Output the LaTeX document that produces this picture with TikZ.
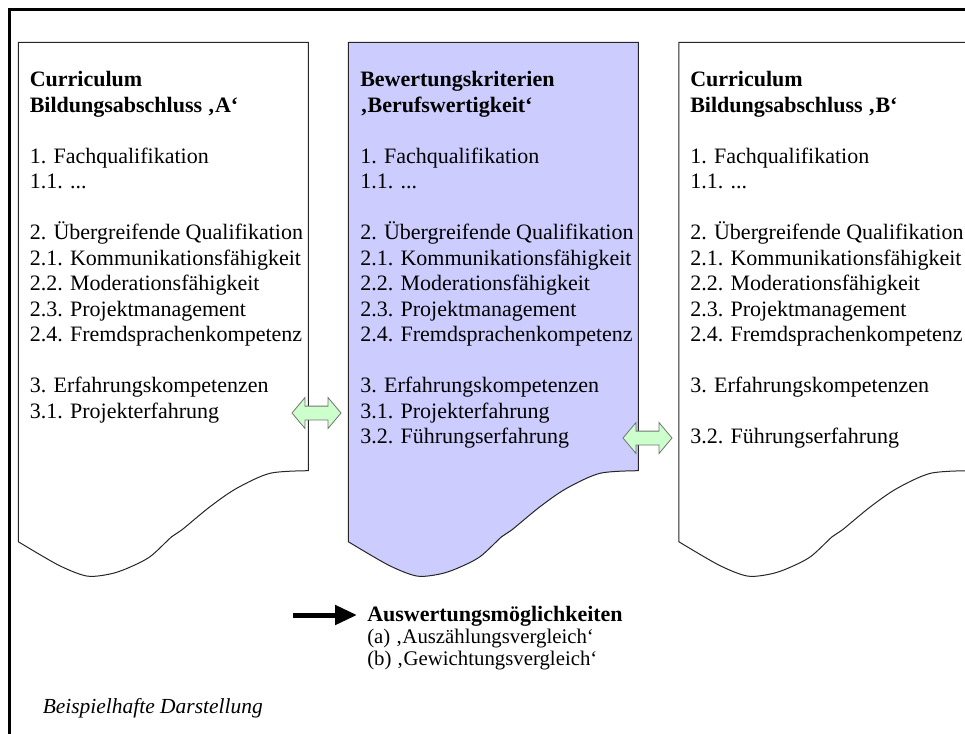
\documentclass[tikz,border=0pt]{standalone}
\usepackage{fontspec}
\setmainfont{Liberation Serif}
\usetikzlibrary{shapes.arrows,arrows.meta}

\tikzset{
  docline/.style={draw=black!85, line width=0.75pt},
  doctext/.style={anchor=base west, inner sep=0pt, font=\fontsize{16.5}{19}\selectfont},
  doctitle/.style={doctext, font=\fontsize{16.5}{19}\selectfont\bfseries},
  linkarrow/.style={double arrow, draw=black!55, fill=green!20, line width=0.6pt,
    inner sep=0pt, text height=9.75pt, text depth=0pt, minimum height=36.75pt,
    double arrow head extend=6.4pt, double arrow tip angle=100},
  evaltext/.style={anchor=base west, inner sep=0pt, font=\fontsize{15.6}{17.5}\selectfont},
  evalarrow/.style={line width=3.75pt, -{Triangle[length=16.5pt, width=14.25pt]}, shorten >=7.5pt}
}

\begin{document}
\begin{tikzpicture}[x=0.75pt, y=-0.75pt]
    \def\docpath{(0,0) -- (290,0) -- (290,428.4) -- plot[smooth, tension=0.5] coordinates {(290,428.4) (251.7,431) (218.4,446) (191.7,464.4) (163.4,487.7) (153.4,494.4) (131.7,514.4) (109.7,525.7) (91.7,531.7) (68.4,533.7) (40,522.7) (0,499.4)} -- cycle}

    \useasboundingbox (0,0) rectangle (965,733);
    \clip (0,0) rectangle (965,733);
    \draw[line width=1.9pt] (9.3,9.3) rectangle (1000,760);

    % the three documents
    \begin{scope}[shift={(18.3,42.3)}]
      \draw[docline] \docpath;
    \end{scope}
    \begin{scope}[shift={(348.3,42.3)}]
      \draw[docline, fill=blue!20] \docpath;
    \end{scope}
    \begin{scope}[shift={(678.8,42.3)}]
      \draw[docline] \docpath;
    \end{scope}

    \foreach \x/\d in {29.5/A, 360/B, 690/C}
      \foreach \n/\txt in {3/1. Fachqualifikation, 4/{1.1. .{}.{}.}, 6/2. Übergreifende Qualifikation,
          7/2.1. Kommunikationsfähigkeit, 8/2.2. Moderationsfähigkeit, 9/2.3. Projektmanagement,
          10/2.4. Fremdsprachenkompetenz, 12/3. Erfahrungskompetenzen}
        \node[doctext] (\d\n) at (\x, 86.5+25.5*\n) {\txt};

    \node[doctitle] (A0) at (29.5,86.5) {Curriculum};
    \node[doctitle] (A1) at (29.5,112) {Bildungsabschluss ‚A‘};
    \node[doctext] (A13) at (29.5,418) {3.1. Projekterfahrung};

    \node[doctitle] (B0) at (360,86.5) {Bewertungskriterien};
    \node[doctitle] (B1) at (360,112) {‚Berufswertigkeit‘};
    \node[doctext] (B13) at (360,418) {3.1. Projekterfahrung};
    \node[doctext] (B14) at (360,443.5) {3.2. Führungserfahrung};

    \node[doctitle] (C0) at (690,86.5) {Curriculum};
    \node[doctitle] (C1) at (690,112) {Bildungsabschluss ‚B‘};
    \node[doctext] (C14) at (690,443.5) {3.2. Führungserfahrung};

    % comparison arrows
    \node[linkarrow] (linkAB) at (316.5,413) {};
    \node[linkarrow] (linkBC) at (647.5,438) {};

    % evaluation
    \coordinate (evalstart) at (293,615);
    \node[doctitle] (evalhead) at (367,621) {Auswertungsmöglichkeiten};
    \node[evaltext] (evalA) at (367,643) {(a) ‚Auszählungsvergleich‘};
    \node[evaltext] (evalB) at (367,665) {(b) ‚Gewichtungsvergleich‘};
    \draw[evalarrow] (evalstart) -- (evalstart -| evalhead.west);

    \node[anchor=base west, inner sep=0pt, font=\fontsize{16.1}{19}\selectfont\itshape] (note) at (42.5,713) {Beispielhafte Darstellung};
\end{tikzpicture}
\end{document}
